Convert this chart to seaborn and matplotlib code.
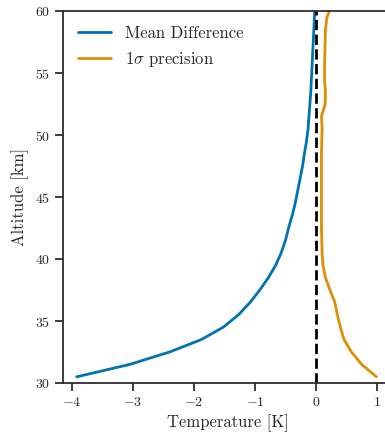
import matplotlib
matplotlib.use("Agg")
import matplotlib.pyplot as plt
import seaborn as sns
import pandas as pd

altitude = [30.5, 31.5, 32.5, 33.5, 34.5, 35.5, 36.5, 37.5, 38.5, 39.5,
            40.5, 41.5, 42.5, 43.5, 44.5, 45.5, 46.5, 47.5, 48.5, 49.5,
            50.5, 51.5, 52.5, 53.5, 54.5, 55.5, 56.5, 57.5, 58.5, 59.5, 60.0]
mean_diff = [-3.92, -3.05, -2.40, -1.88, -1.52, -1.27, -1.08, -0.92, -0.78, -0.66,
             -0.57, -0.50, -0.45, -0.39, -0.34, -0.30, -0.26, -0.22, -0.19, -0.155,
             -0.13, -0.115, -0.10, -0.085, -0.075, -0.065, -0.055, -0.045, -0.035, -0.025, -0.02]
precision = [0.99, 0.75, 0.58, 0.46, 0.40, 0.35, 0.31, 0.23, 0.155, 0.115,
             0.10, 0.095, 0.09, 0.09, 0.09, 0.09, 0.09, 0.09, 0.09, 0.095,
             0.10, 0.09, 0.15, 0.155, 0.14, 0.14, 0.145, 0.15, 0.155, 0.18, 0.22]

sns.set_theme(style="ticks", palette="colorblind")
plt.rcParams['font.family'] = 'serif'
plt.rcParams['font.serif'] = ['cmr10']
plt.rcParams['mathtext.fontset'] = 'cm'
plt.rcParams['axes.formatter.use_mathtext'] = True

df = pd.DataFrame({"alt": altitude, "md": mean_diff, "pr": precision})
pal = sns.color_palette("colorblind")

fig = plt.figure(figsize=(3.85, 4.32), dpi=100)
ax = fig.add_axes([0.1636, 0.1134, 0.8545, 0.8611])
sns.lineplot(data=df, x="md", y="alt", orient="y", estimator=None, ax=ax,
             color=pal[0], lw=2, label="Mean Difference")
sns.lineplot(data=df, x="pr", y="alt", orient="y", estimator=None, ax=ax,
             color=pal[1], lw=2, label=r"$1\sigma$ precision")
ax.axvline(0, color="black", ls="--", lw=2)
ax.set_xlim(-4.145, 1.245)
ax.set_ylim(30, 60)
ax.set_xticks([-4, -3, -2, -1, 0, 1])
ax.set_yticks([30, 35, 40, 45, 50, 55, 60])
ax.set_xlabel("Temperature [K]", fontsize=12)
ax.set_ylabel("Altitude [km]", fontsize=12)
ax.tick_params(labelsize=10)
ax.spines['right'].set_visible(False)
ax.legend(loc="upper left", frameon=False, fontsize=12)
fig.savefig("out.png", dpi=100)
